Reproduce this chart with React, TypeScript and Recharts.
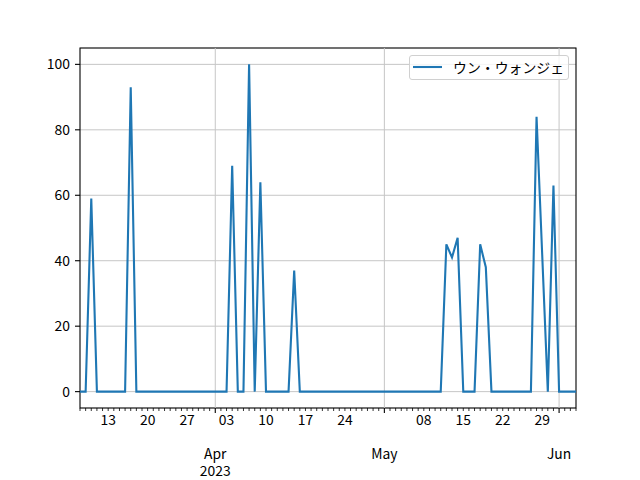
import { CartesianGrid, Line, LineChart, ReferenceArea, ReferenceLine, XAxis, YAxis } from "recharts";

const FONT = '"Noto Sans CJK JP", "Noto Sans", sans-serif';
const BLUE = "#1f77b4";
const GRID = "#c6c6c6";

const seriesName = "ウン・ウォンジェ";

// daily values, one per day starting 2023-03-08
const values = [
  // Mar 8 - Mar 31
  0, 0, 59, 0, 0, 0, 0, 0, 0, 93, 0, 0, 0, 0, 0, 0, 0, 0, 0, 0, 0, 0, 0, 0,
  // Apr 1 - Apr 30
  0, 0, 0, 69, 0, 0, 100, 0, 64, 0, 0, 0, 0, 0, 37, 0, 0, 0, 0, 0, 0, 0, 0, 0, 0, 0, 0, 0, 0, 0,
  // May 1 - May 31
  0, 0, 0, 0, 0, 0, 0, 0, 0, 0, 0, 45, 41, 47, 0, 0, 0, 45, 38, 0, 0, 0, 0, 0, 0, 0, 0, 84, 42, 0, 63,
  // Jun 1 - Jun 4
  0, 0, 0, 0,
];

const weekTickDays = [5, 12, 19, 26, 33, 40, 47, 61, 68, 75, 82];
const weekTickLabels = ["13", "20", "27", "03", "10", "17", "24", "08", "15", "22", "29"];
const monthTickDays = [24, 54, 85];
const monthTickLabels = [["Apr", "2023"], ["May"], ["Jun"]];
const yTicks = [0, 20, 40, 60, 80, 100];

const data = values.map((v, i) => ({ day: i, value: v }));
const dayTicks = data.map((d) => d.day);
const lastDay = values.length - 1;

function DayTick(props: any) {
  const { x, y, payload } = props;
  const d = payload.value;
  const m = monthTickDays.indexOf(d);
  const w = weekTickDays.indexOf(d);
  const major = m >= 0;
  return (
    <g>
      <line x1={x} x2={x} y1={y} y2={y + (major ? 5 : 3)} stroke="#000" strokeWidth={major ? 1.1 : 0.8} />
      {w >= 0 && !major && (
        <text x={x} y={y + 17} textAnchor="middle" fill="#000" fontSize={13.9} fontFamily={FONT}>
          {weekTickLabels[w]}
        </text>
      )}
      {major &&
        monthTickLabels[m].map((t, j) => (
          <text key={t} x={x} y={y + 51 + j * 17} textAnchor="middle" fill="#000" fontSize={13.9} fontFamily={FONT}>
            {t}
          </text>
        ))}
    </g>
  );
}

export default function App() {
  return (
    <div style={{ position: "absolute", left: 0, top: 0, width: 640, height: 480, background: "#fff", fontFamily: FONT }}>
      <LineChart width={640} height={480} data={data} margin={{ top: 48, right: 64, bottom: 0, left: 30 }}>
        <CartesianGrid vertical={false} stroke={GRID} strokeWidth={1} />
        {monthTickDays.map((d) => (
          <ReferenceLine key={d} x={d} stroke={GRID} strokeWidth={1} />
        ))}
        <XAxis
          dataKey="day"
          type="number"
          domain={[0, lastDay]}
          ticks={dayTicks}
          interval={0}
          height={72}
          tickSize={0}
          tickMargin={0}
          tickLine={false}
          axisLine={false}
          tick={<DayTick />}
        />
        <YAxis
          type="number"
          domain={[-5, 105]}
          ticks={yTicks}
          width={50}
          tickSize={5}
          tickMargin={5}
          axisLine={false}
          tickLine={{ stroke: "#000", strokeWidth: 1.1 }}
          tick={{ fill: "#000", fontSize: 13.9, fontFamily: FONT }}
        />
        <Line type="linear" dataKey="value" stroke={BLUE} strokeWidth={2.1} dot={false} isAnimationActive={false} />
        <ReferenceArea x1={0} x2={lastDay} y1={-5} y2={105} fill="none" stroke="#000" strokeWidth={1.1} />
      </LineChart>
      <div
        style={{
          position: "absolute",
          left: 409,
          top: 55,
          width: 160,
          height: 25,
          boxSizing: "border-box",
          border: "1px solid #d0d0d0",
          borderRadius: 3,
          background: "rgba(255,255,255,0.8)",
        }}
      >
        <svg width={40} height={23} style={{ position: "absolute", left: 0, top: 0 }}>
          <line x1={3} x2={32} y1={11} y2={11} stroke={BLUE} strokeWidth={2.1} />
        </svg>
        <span style={{ position: "absolute", left: 43, top: 2, fontSize: 13.9, lineHeight: "18px", color: "#000", whiteSpace: "nowrap" }}>
          {seriesName}
        </span>
      </div>
    </div>
  );
}
